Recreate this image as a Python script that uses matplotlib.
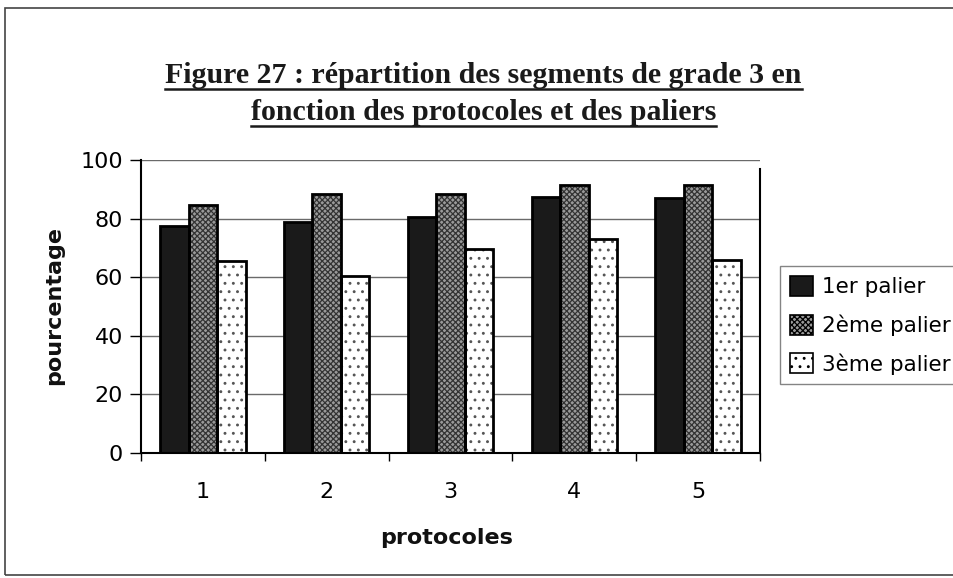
import numpy as np
import matplotlib.pyplot as plt
from matplotlib.patches import Patch, Rectangle
from matplotlib.lines import Line2D

# bar values (% of grade 3 segments) per protocol and stage
protocoles = ['1', '2', '3', '4', '5']
palier_1 = [77.5, 79, 80.5, 87.5, 87]
palier_2 = [84.5, 88.5, 88.5, 91.5, 91.5]
palier_3 = [65.5, 60.5, 69.5, 73, 66]
noms = ['1er palier', '2ème palier', '3ème palier']

plt.rcParams['hatch.linewidth'] = 0.9

fig = plt.figure(figsize=(9.54, 5.78), dpi=100)
ax = fig.add_axes([0.1478, 0.2163, 0.6488, 0.5069])

x = np.arange(len(protocoles))
w = 0.23
styles = [
    dict(color='#1a1a1a', hatch=None, hc='#1a1a1a'),
    dict(color='#9a9a9a', hatch='xxxxxx', hc='#333333'),
    dict(color='white', hatch='..', hc='#555555'),
]
for i, (vals, st) in enumerate(zip([palier_1, palier_2, palier_3], styles)):
    pos = x + (i - 1) * w
    # fill + hatch first, then a black outline on top
    ax.bar(pos, vals, w, color=st['color'], hatch=st['hatch'],
           edgecolor=st['hc'], linewidth=0, zorder=2)
    ax.bar(pos, vals, w, fill=False, edgecolor='black', linewidth=2.0, zorder=3)

ax.set_xlim(-0.5, 4.5)
ax.set_ylim(0, 100)
ax.set_yticks([0, 20, 40, 60, 80, 100])
ax.yaxis.grid(True, color='#6a6a6a', linewidth=1.0)
ax.set_axisbelow(True)
ax.set_xticks(x)
ax.set_xticklabels(protocoles)
ax.set_xticks(np.arange(-0.5, 5.0, 1.0), minor=True)
ax.tick_params(axis='x', which='major', length=0, pad=21, labelsize=16)
ax.tick_params(axis='x', which='minor', length=6, width=1, direction='out')
ax.tick_params(axis='y', length=8, width=1, direction='out', pad=5, labelsize=16)

ax.spines['top'].set_visible(False)
ax.spines['left'].set_linewidth(1.5)
ax.spines['bottom'].set_linewidth(1.5)
ax.spines['right'].set_linewidth(1.5)
ax.spines['right'].set_bounds(0, 97)

fig.text(0.057, 0.472, 'pourcentage', rotation=90, ha='center', va='center',
         fontsize=16, fontweight='bold', color='#111111')
fig.text(0.468, 0.069, 'protocoles', ha='center', va='center',
         fontsize=16, fontweight='bold', color='#111111')

# legend on the right, running off the edge of the frame
handles = [Patch(facecolor=st['color'], hatch=st['hatch'], edgecolor='black',
                 linewidth=1.2) for st in styles]
leg = fig.legend(handles, noms, loc='center left', bbox_to_anchor=(0.818, 0.437),
                 fontsize=15.5, frameon=True, fancybox=False, edgecolor='#666666',
                 handlelength=1.05, handleheight=1.05, handletextpad=0.45,
                 borderpad=0.45, labelspacing=0.8, borderaxespad=0)
leg.get_frame().set_linewidth(1.0)

# outer frame of the chart
fig.patches.append(Rectangle((0.005, 0.006), 1.2, 0.981, transform=fig.transFigure,
                             fill=False, edgecolor='#444444', linewidth=1.2))

# underlined serif title
titres = ['Figure 27 : répartition des segments de grade 3 en',
          'fonction des protocoles et des paliers']
ys = [0.8564, 0.7924]
fig.canvas.draw()
r = fig.canvas.get_renderer()
for t, yy in zip(titres, ys):
    txt = fig.text(0.507, yy, t, ha='center', va='baseline', fontsize=21.5,
                   family='Liberation Serif', fontweight='bold', color='#1a1a1a')
    bb = txt.get_window_extent(renderer=r).transformed(fig.transFigure.inverted())
    uy = yy - 0.0105
    fig.add_artist(Line2D([bb.x0, bb.x1], [uy, uy],
                          transform=fig.transFigure, color='#1a1a1a', linewidth=1.8))

fig.savefig('out.png', dpi=100)
